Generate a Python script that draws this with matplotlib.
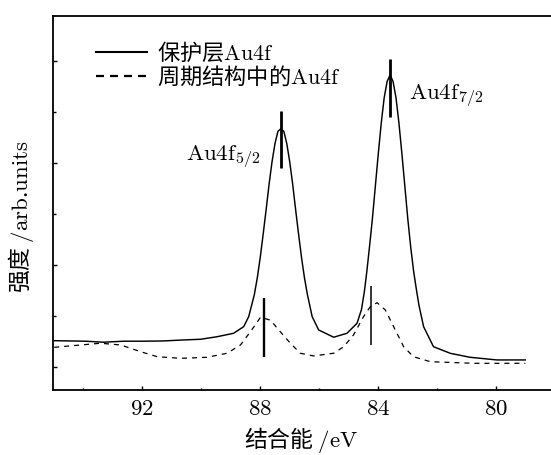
import matplotlib
matplotlib.use('Agg')
import matplotlib.pyplot as plt
from matplotlib.lines import Line2D
from matplotlib.ticker import MultipleLocator

# ---- data (binding energy in eV, intensity in arb. units) ----
energy_solid = [94.95, 93.90, 93.30, 92.60, 92.00, 91.30, 90.60, 90.00, 89.44, 88.88,
                88.54, 88.37, 88.18, 88.08, 87.98, 87.88, 87.78, 87.68, 87.58, 87.48,
                87.38, 87.28, 87.18, 87.08, 86.98, 86.88, 86.78, 86.68, 86.58, 86.48,
                86.38, 86.22, 86.00, 85.49, 85.04, 84.70, 84.55, 84.45, 84.37, 84.28,
                84.18, 84.08, 83.98, 83.88, 83.78, 83.68, 83.58, 83.48, 83.38, 83.28,
                83.18, 83.08, 82.98, 82.88, 82.78, 82.68, 82.60, 82.445, 82.11, 81.54,
                80.87, 79.96, 79.00]
intensity_solid = [0.255, 0.250, 0.240, 0.250, 0.250, 0.252, 0.262, 0.269, 0.294, 0.328,
                   0.393, 0.491, 0.706, 0.870, 1.070, 1.300, 1.540, 1.790, 2.010, 2.190,
                   2.310, 2.335, 2.310, 2.190, 2.010, 1.790, 1.540, 1.300, 1.070, 0.870,
                   0.706, 0.491, 0.360, 0.289, 0.328, 0.426, 0.560, 0.740, 0.930, 1.170,
                   1.450, 1.770, 2.090, 2.390, 2.640, 2.800, 2.863, 2.800, 2.640, 2.390,
                   2.090, 1.770, 1.450, 1.170, 0.930, 0.740, 0.600, 0.393, 0.196, 0.131,
                   0.092, 0.066, 0.066]

energy_dashed = [94.96, 93.39, 92.71, 92.03, 91.47, 90.68, 89.78, 89.10, 88.65, 88.31,
                 87.97, 87.63, 87.30, 86.96, 86.62, 86.17, 85.49, 85.15, 84.82, 84.48,
                 84.25, 84.02, 83.74, 83.46, 83.12, 82.79, 82.22, 80.75, 79.00]
intensity_dashed = [0.190, 0.230, 0.213, 0.147, 0.098, 0.082, 0.092, 0.132, 0.213, 0.343,
                    0.485, 0.456, 0.343, 0.230, 0.132, 0.105, 0.132, 0.196, 0.311, 0.491,
                    0.589, 0.628, 0.556, 0.393, 0.196, 0.098, 0.049, 0.033, 0.033]

solid_marks_x = [87.29, 83.57]
solid_marks_lo = [1.947, 2.447]
solid_marks_hi = [2.508, 3.020]
dashed_marks_x = [87.86, 84.24]
dashed_marks_lo = [0.098, 0.213]
dashed_marks_hi = [0.677, 0.795]

xtick_vals = [92, 88, 84, 80]
xtick_labels = ['$92$', '$88$', '$84$', '$80$']
legend_labels = ['保护层$\\mathrm{Au4f}$', '周期结构中的$\\mathrm{Au4f}$']
peak_labels = ['$\\mathrm{Au4f}_{5/2}$', '$\\mathrm{Au4f}_{7/2}$']
peak_label_x = [90.48, 82.95]
peak_label_y = [2.028, 2.624]
xlabel = '结合能 $/\\mathrm{eV}$'
ylabel = '强度 $/\\mathrm{arb}$.$\\mathrm{units}$'

plt.rcParams['font.family'] = ['Noto Sans CJK SC', 'DejaVu Sans']
plt.rcParams['mathtext.fontset'] = 'cm'

FS = 16.5
W, H = 551, 455
fig = plt.figure(figsize=(W / 100, H / 100), dpi=100)
left_px, right_px, top_px, bot_px = 53, 554.8, 15.7, 390
ax = fig.add_axes([left_px / W, (H - bot_px) / H, (right_px - left_px) / W, (bot_px - top_px) / H])

ax.plot(energy_solid, intensity_solid, color='black', lw=1.05, solid_joinstyle='round')
ax.plot(energy_dashed, intensity_dashed, color='black', lw=0.9, linestyle=(0, (4, 4)))

ax.vlines(solid_marks_x, solid_marks_lo, solid_marks_hi, color='black', lw=2.0)
ax.vlines(dashed_marks_x[:1], dashed_marks_lo[:1], dashed_marks_hi[:1], color='black', lw=1.7)
ax.vlines(dashed_marks_x[1:], dashed_marks_lo[1:], dashed_marks_hi[1:], color='black', lw=1.1)

for lab, x, y in zip(peak_labels, peak_label_x, peak_label_y):
    ax.text(x, y, lab, fontsize=FS, ha='left', va='baseline')

ax.set_xlim(95, 78)
ax.set_ylim(-0.229, 3.445)
ax.set_xticks(xtick_vals, xtick_labels)
ax.xaxis.set_minor_locator(MultipleLocator(2))
ax.yaxis.set_major_locator(MultipleLocator(1))
ax.yaxis.set_minor_locator(MultipleLocator(0.5))
ax.tick_params(which='both', direction='in', top=False, right=False, width=1.0)
ax.tick_params(which='major', length=3)
ax.tick_params(which='minor', length=1.8)
ax.tick_params(axis='x', labelsize=FS, pad=5)
ax.tick_params(axis='y', labelleft=False)
for s in ax.spines.values():
    s.set_linewidth(1.3)

ax.set_xlabel(xlabel, fontsize=FS, va='baseline')
ax.set_ylabel(ylabel, fontsize=FS)
ax.xaxis.set_label_coords(0.495, -0.153)
ax.yaxis.set_label_coords(-0.034, 0.4635)

handles = [Line2D([], [], color='black', lw=1.5),
           Line2D([], [], color='black', lw=1.6, linestyle=(0, (3.6, 2.7)))]
ax.legend(handles, legend_labels, loc='upper left', bbox_to_anchor=(0.0857, 0.935),
          frameon=False, fontsize=16, handlelength=2.3, handletextpad=0.45,
          labelspacing=0.0, borderpad=0, borderaxespad=0)

fig.savefig('out.png', dpi=100)
